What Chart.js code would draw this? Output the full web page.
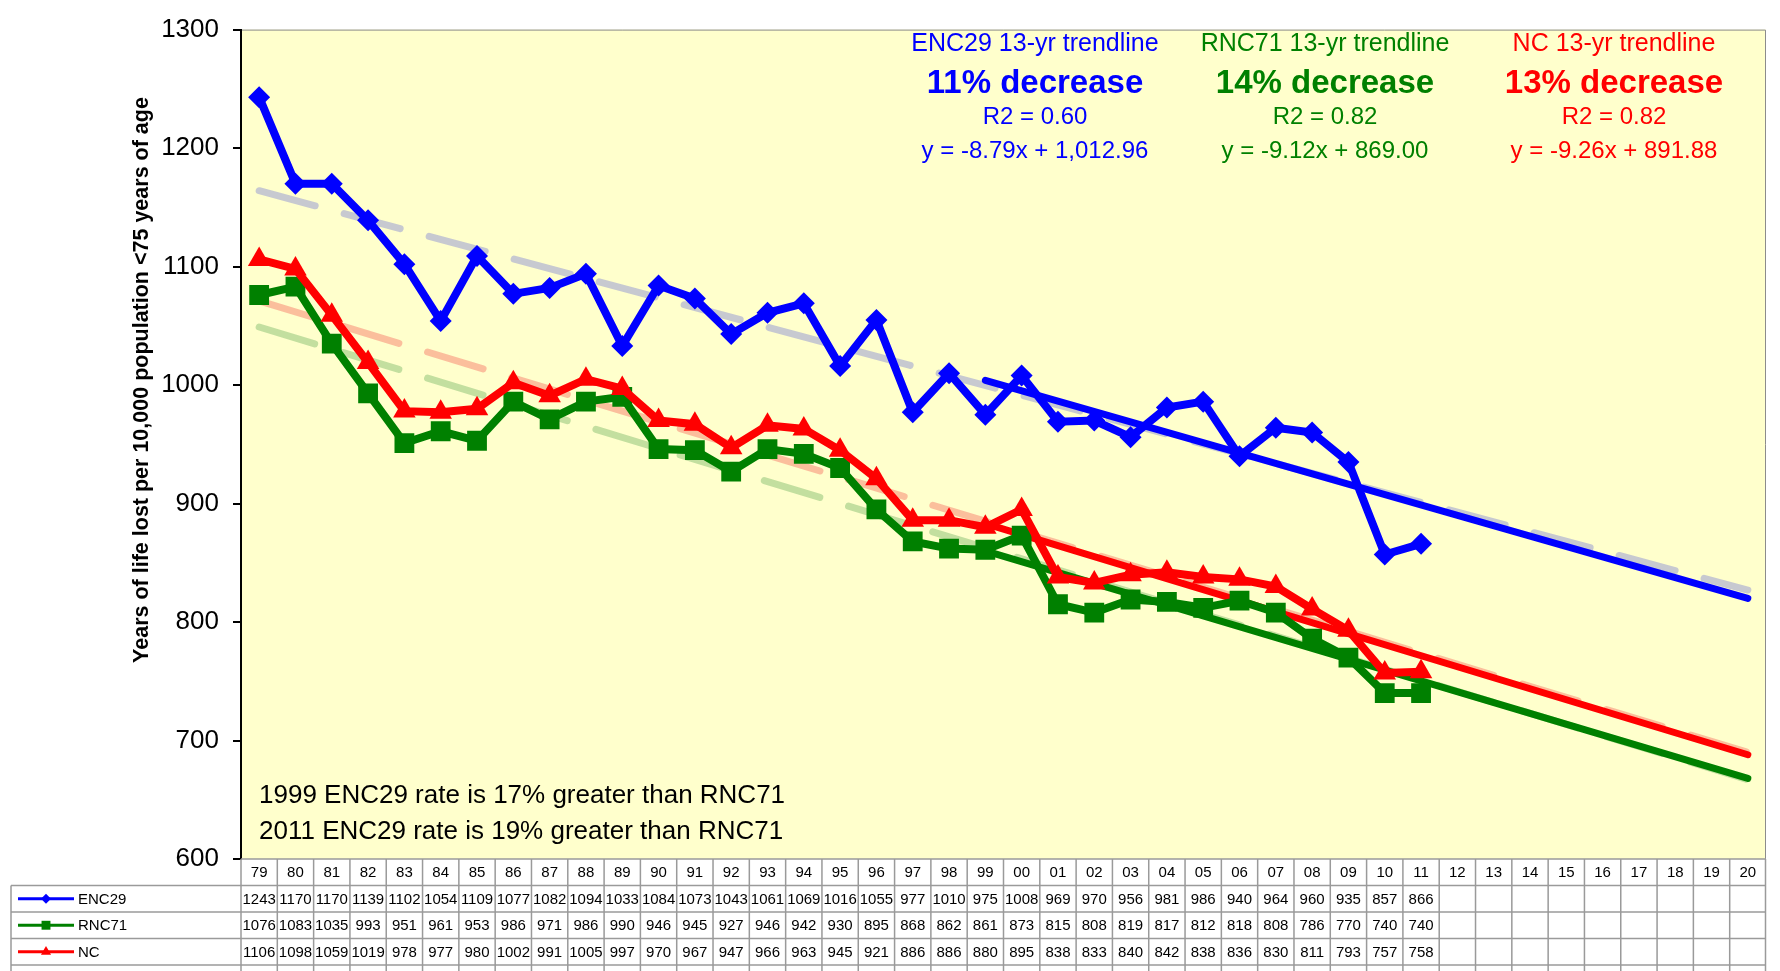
<!DOCTYPE html>
<html>
<head>
<meta charset="utf-8">
<script src="https://cdn.jsdelivr.net/npm/chart.js@4.4.1/dist/chart.umd.min.js"></script>
<style>
  html, body { margin: 0; padding: 0; background: #fff; }
  #wrap { width: 1780px; height: 971px; }
</style>
</head>
<body>
<div id="wrap"><canvas id="chart" width="1780" height="971"></canvas></div>
<script>
// ------------ Data ------------
const YEARS = ["79","80","81","82","83","84","85","86","87","88","89","90","91","92","93","94","95","96","97","98","99",
               "00","01","02","03","04","05","06","07","08","09","10","11","12","13","14","15","16","17","18","19","20"];

const ENC29 = [1243,1170,1170,1139,1102,1054,1109,1077,1082,1094,1033,1084,1073,1043,1061,1069,1016,1055,977,1010,975,
               1008,969,970,956,981,986,940,964,960,935,857,866];
const RNC71 = [1076,1083,1035,993,951,961,953,986,971,986,990,946,945,927,946,942,930,895,868,862,861,
               873,815,808,819,817,812,818,808,786,770,740,740];
const NC    = [1106,1098,1059,1019,978,977,980,1002,991,1005,997,970,967,947,966,963,945,921,886,886,880,
               895,838,833,840,842,838,836,830,811,793,757,758];

// 13-yr trendlines (solid), read at 1999 and 2020
const TREND_YEARS = ["99","20"];
const ENC29_TREND = [1004, 820];
const RNC71_TREND = [860, 668];
const NC_TREND    = [883, 688];

// long-range trendlines (faint dashed), read at 1979 and 2020
const FIT_YEARS = ["79","20"];
const ENC29_FIT = [1164, 827];
const RNC71_FIT = [1049, 667];
const NC_FIT    = [1071, 690];

const Y_TICKS = [600,700,800,900,1000,1100,1200,1300];
const Y_TITLE = "Years of life lost per 10,000 population <75 years of age";

const SERIES = [
  { name: "ENC29", data: ENC29, color: "#0000ff", style: "rectRot", radius: 11 },
  { name: "RNC71", data: RNC71, color: "#008000", style: "rect",    radius: 14 },
  { name: "NC",    data: NC,    color: "#ff0000", style: "triangle",radius: 13 }
];

const NOTES = [
  { x: 1035, color: "#0000ff", lines: ["ENC29 13-yr trendline", "11% decrease", "R2 = 0.60", "y = -8.79x + 1,012.96"] },
  { x: 1325, color: "#008000", lines: ["RNC71 13-yr trendline", "14% decrease", "R2 = 0.82", "y = -9.12x + 869.00"] },
  { x: 1614, color: "#ff0000", lines: ["NC 13-yr trendline", "13% decrease", "R2 = 0.82", "y = -9.26x + 891.88"] }
];
const FOOT = ["1999 ENC29 rate is 17% greater than RNC71", "2011 ENC29 rate is 19% greater than RNC71"];

const FONT = "'Liberation Sans', Arial, sans-serif";

// ------------ Helpers ------------
function pts(years, vals){ return years.map((y,i) => ({ x: y, y: vals[i] })); }

function mainSet(s){
  return {
    label: s.name, data: s.data, borderColor: s.color, backgroundColor: s.color,
    borderWidth: 8, pointStyle: s.style, pointRadius: s.radius, pointBorderWidth: 0,
    pointBackgroundColor: s.color, tension: 0
  };
}
function trendSet(name, years, vals, color){
  return { label: name, data: pts(years, vals), borderColor: color, borderWidth: 7,
           pointRadius: 0, borderCapStyle: "round", tension: 0 };
}
function fitSet(name, years, vals, color){
  return { label: name, data: pts(years, vals), borderColor: color, borderWidth: 7,
           borderDash: [58, 30], borderCapStyle: "round", pointRadius: 0, tension: 0 };
}

// ------------ Plugins ------------
const backdrop = {
  id: "backdrop",
  beforeDraw(chart){
    const { ctx, chartArea: a } = chart;
    ctx.save();
    ctx.fillStyle = "#fff";
    ctx.fillRect(0, 0, chart.width, chart.height);
    ctx.fillStyle = "#ffffcc";
    ctx.fillRect(a.left, a.top, a.right - a.left, a.bottom - a.top);
    ctx.strokeStyle = "#8c8c8c";
    ctx.lineWidth = 1;
    ctx.beginPath();
    ctx.moveTo(a.left, a.top + 0.5); ctx.lineTo(a.right - 0.5, a.top + 0.5); ctx.lineTo(a.right - 0.5, a.bottom);
    ctx.stroke();
    ctx.restore();
  }
};

const notes = {
  id: "notes",
  afterDraw(chart){
    const ctx = chart.ctx;
    ctx.save();
    ctx.textAlign = "center";
    ctx.textBaseline = "middle";
    const rowY = [44, 84, 117, 151];
    const fonts = ["25px " + FONT, "bold 33px " + FONT, "24px " + FONT, "24px " + FONT];
    NOTES.forEach(n => {
      ctx.fillStyle = n.color;
      n.lines.forEach((t, i) => { ctx.font = fonts[i]; ctx.fillText(t, n.x, rowY[i]); });
    });
    ctx.textAlign = "left";
    ctx.fillStyle = "#000";
    ctx.font = "26px " + FONT;
    FOOT.forEach((t, i) => ctx.fillText(t, 259, 796 + i * 36));

    // y axis title (sits a bit above the axis middle in the original)
    ctx.translate(142, 380);
    ctx.rotate(-Math.PI / 2);
    ctx.textAlign = "center";
    ctx.font = "bold 21.5px " + FONT;
    ctx.fillText(Y_TITLE, 0, 0);
    ctx.restore();
  }
};

const dataTable = {
  id: "dataTable",
  afterDraw(chart){
    const { ctx, chartArea: a } = chart;
    const xs = chart.scales.x;
    const half = (xs.getPixelForValue(1) - xs.getPixelForValue(0)) / 2;
    const top = a.bottom, rowH = 26.5, legL = 11, bottom = chart.height;
    ctx.save();
    ctx.strokeStyle = "#9a9a9a";
    ctx.lineWidth = 1.5;
    ctx.beginPath();
    // horizontal rules
    ctx.moveTo(a.left, top); ctx.lineTo(a.right, top);
    for (let k = 1; k <= 4; k++) { ctx.moveTo(legL, top + k * rowH); ctx.lineTo(a.right, top + k * rowH); }
    // vertical rules
    ctx.moveTo(legL, top + rowH); ctx.lineTo(legL, bottom);
    YEARS.forEach((y, i) => {
      const x = xs.getPixelForValue(i) - half;
      ctx.moveTo(x, top); ctx.lineTo(x, bottom);
    });
    ctx.moveTo(a.right - 0.5, top); ctx.lineTo(a.right - 0.5, bottom);
    ctx.stroke();

    ctx.fillStyle = "#000";
    ctx.textAlign = "center";
    ctx.textBaseline = "middle";
    ctx.font = "15px " + FONT;
    YEARS.forEach((y, i) => ctx.fillText(y, xs.getPixelForValue(i), top + rowH / 2 + 1));

    SERIES.forEach((s, r) => {
      const cy = top + rowH * (r + 1.5) + 1;
      ctx.font = "15px " + FONT;
      ctx.fillStyle = "#000";
      ctx.textAlign = "center";
      s.data.forEach((v, i) => ctx.fillText(String(v), xs.getPixelForValue(i), cy, half * 2 - 3));
      // legend key
      ctx.strokeStyle = s.color; ctx.fillStyle = s.color; ctx.lineWidth = 3;
      ctx.beginPath(); ctx.moveTo(18, cy - 1); ctx.lineTo(74, cy - 1); ctx.stroke();
      Chart.helpers.drawPoint(ctx, { pointStyle: s.style, radius: s.radius * 0.45, rotation: 0, borderWidth: 0 }, 46, cy - 1);
      ctx.fillStyle = "#000";
      ctx.textAlign = "left";
      ctx.fillText(s.name, 78, cy);
    });
    ctx.restore();
  }
};

// ------------ Chart ------------
const chartCtx = document.getElementById("chart").getContext("2d");
new Chart(chartCtx, {
  type: "line",
  data: {
    labels: YEARS,
    datasets: [
      mainSet(SERIES[2]),
      mainSet(SERIES[1]),
      mainSet(SERIES[0]),
      trendSet("NC trend", TREND_YEARS, NC_TREND, "#ff0000"),
      trendSet("RNC71 trend", TREND_YEARS, RNC71_TREND, "#008000"),
      trendSet("ENC29 trend", TREND_YEARS, ENC29_TREND, "#0000ff"),
      fitSet("NC fit", FIT_YEARS, NC_FIT, "rgba(250,170,140,0.75)"),
      fitSet("RNC71 fit", FIT_YEARS, RNC71_FIT, "rgba(170,210,140,0.7)"),
      fitSet("ENC29 fit", FIT_YEARS, ENC29_FIT, "rgba(175,178,210,0.7)")
    ]
  },
  options: {
    responsive: false,
    animation: false,
    layout: { padding: { top: 18, right: 3, bottom: 112, left: 0 } },
    plugins: { legend: { display: false }, tooltip: { enabled: false } },
    scales: {
      x: { type: "category", offset: true, display: false },
      y: {
        min: 600, max: 1300,
        afterFit(scale){ scale.width = 241; },
        afterBuildTicks(scale){ scale.ticks = Y_TICKS.map(v => ({ value: v })); },
        border: { color: "#000", width: 2 },
        grid: { drawOnChartArea: false, color: "#000", tickLength: 8, lineWidth: 2 },
        ticks: { color: "#000", padding: 14, font: { family: FONT, size: 26 }, callback: v => String(v) }
      }
    }
  },
  plugins: [backdrop, notes, dataTable]
});
</script>
</body>
</html>
